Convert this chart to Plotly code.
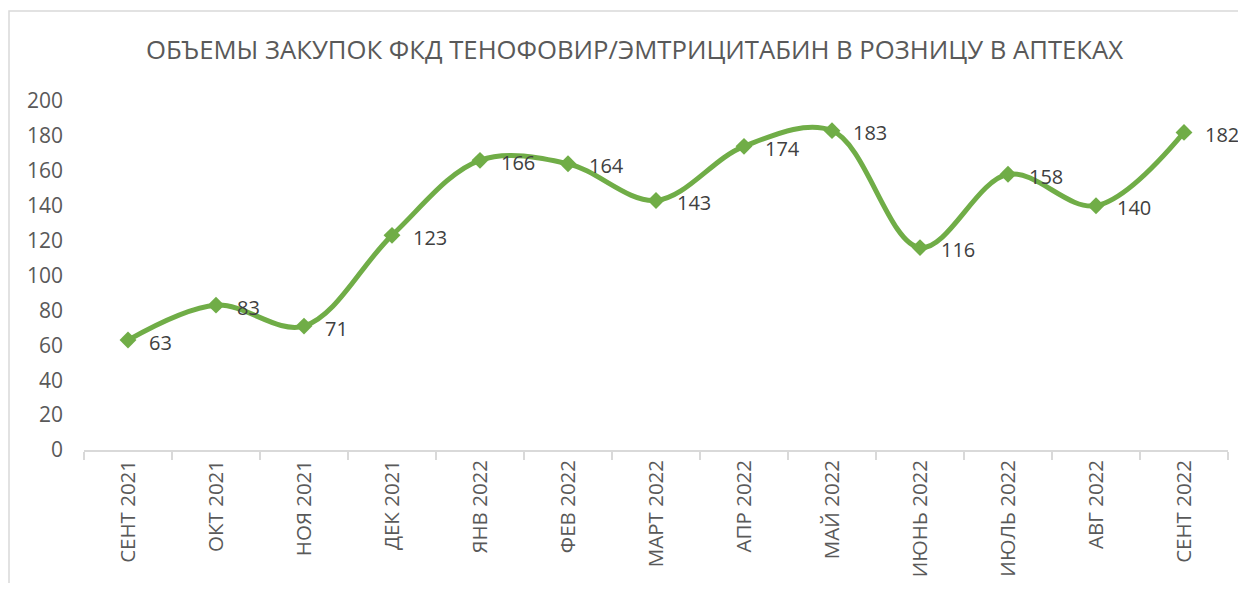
import plotly.graph_objects as go

categories = ["СЕНТ 2021", "ОКТ 2021", "НОЯ 2021", "ДЕК 2021", "ЯНВ 2022", "ФЕВ 2022",
              "МАРТ 2022", "АПР 2022", "МАЙ 2022", "ИЮНЬ 2022", "ИЮЛЬ 2022", "АВГ 2022", "СЕНТ 2022"]
values = [63, 83, 71, 123, 166, 164, 143, 174, 183, 116, 158, 140, 182]
y_ticks = [0, 20, 40, 60, 80, 100, 120, 140, 160, 180, 200]
title_text = "ОБЪЕМЫ ЗАКУПОК ФКД ТЕНОФОВИР/ЭМТРИЦИТАБИН В РОЗНИЦУ В АПТЕКАХ"

GREEN = "#70AD47"
FONT = "Open Sans"

W, H = 1230, 575
L, T, R, B = 76, 93, 10, 133
PW, PH = W - L - R, H - T - B

fig = go.Figure()
fig.add_trace(go.Scatter(
    x=categories, y=values, mode="lines+markers",
    line=dict(color=GREEN, width=5, shape="spline", smoothing=1.0),
    marker=dict(symbol="diamond", size=13, color=GREEN),
    hoverinfo="skip", showlegend=False,
))

for c, v in zip(categories, values):
    fig.add_annotation(x=c, y=v, text=str(v), showarrow=False,
                       xanchor="left", yanchor="middle", xshift=19, yshift=-2,
                       font=dict(family=FONT, size=20, color="#404040"))

fig.update_layout(
    width=W, height=H,
    margin=dict(l=L, r=R, t=T, b=B, autoexpand=False),
    paper_bgcolor="white", plot_bgcolor="white",
    title=dict(text=title_text, x=626.5 / W, xref="container", xanchor="center",
               y=1 - 42 / H, yref="container", yanchor="middle",
               font=dict(family=FONT, size=25.7, color="#595959")),
    font=dict(family=FONT, color="#595959"),
)

fig.update_xaxes(type="category", range=[-0.5, 12.5], tickangle=-90, automargin=False,
                 showgrid=False, showline=True, linecolor="#D9D9D9", linewidth=1.5,
                 ticks="outside", ticklen=8, tickcolor="#D9D9D9", tickwidth=1.5,
                 tickson="boundaries",
                 tickfont=dict(family=FONT, size=20.5, color="#595959"), zeroline=False)
fig.update_yaxes(range=[0, 200], tickvals=y_ticks, showgrid=False, showline=False,
                 zeroline=False, ticks="", ticklabelstandoff=20, automargin=False,
                 tickfont=dict(family=FONT, size=21, color="#595959"))

fig.add_shape(type="rect", xref="paper", yref="paper",
              x0=(1 - L) / PW, x1=(W + 20 - L) / PW,
              y0=(PH + T - (H + 20)) / PH, y1=(PH + T - 3) / PH,
              line=dict(color="#D9D9D9", width=1.5), fillcolor="rgba(0,0,0,0)", layer="below")

fig.write_html("out.html")
